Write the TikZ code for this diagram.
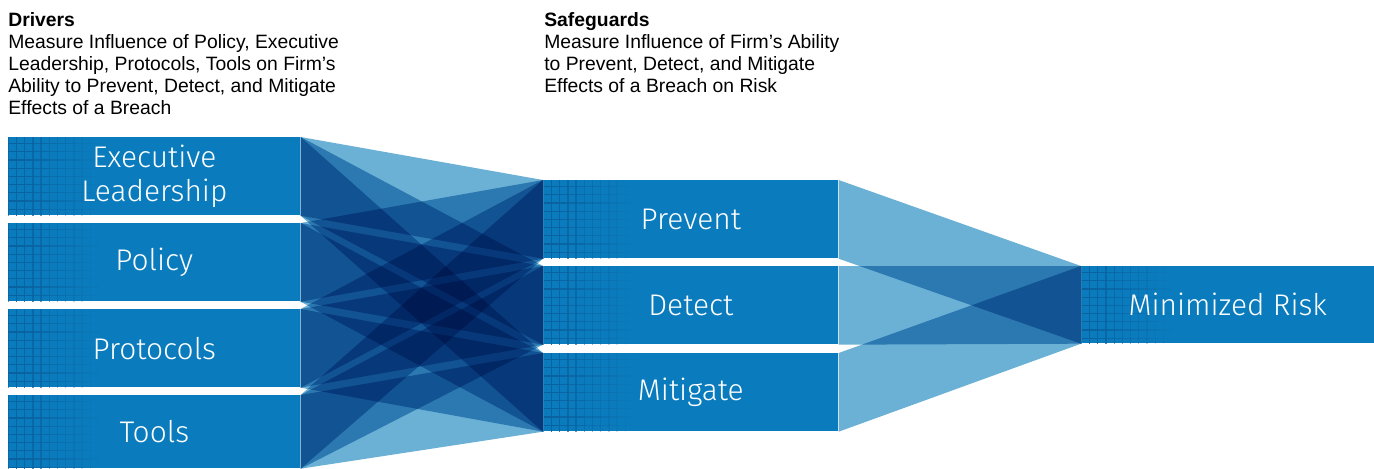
\documentclass[tikz,border=0pt]{standalone}
\usepackage{fontspec}
\setmainfont{Liberation Sans}
\newfontfamily\boxfont{Fira Sans Light}
\definecolor{boxblue}{HTML}{0A7CBD}
\definecolor{gridblue}{HTML}{0A619F}
\definecolor{fanblue}{HTML}{6BB0D5}

% fading grid on the left end of each box
\newcommand{\gridtex}{%
  \foreach \k in {0,...,10} {
    \pgfmathsetmacro{\op}{1-\k/11}
    \draw[gridblue, line width=0.75pt, opacity=\op]
      (path picture bounding box.north west) ++(\k*8.2, 0) -- ++(0, 80);
    \foreach \j in {1,...,9} {
      \draw[gridblue, line width=0.75pt, opacity=\op]
        (path picture bounding box.north west) ++(\k*8.2, \j*8.2-2) -- ++(8.2, 0);
    }
  }}

\begin{document}
\begin{tikzpicture}[
    x=0.02cm, y=-0.02cm,
    stage/.style={fill=boxblue, text=white, anchor=north west, inner sep=0pt,
      minimum width=5.84cm, minimum height=1.56cm, align=center,
      font=\boxfont\fontsize{17}{19.5}\selectfont, path picture={\gridtex}},
    fan/.style={fill=fanblue},
    head/.style={anchor=north west, align=left, inner sep=0pt,
      font=\fontsize{11}{12.6}\selectfont},
]
\useasboundingbox (0,0) rectangle (1374,468);

\node[head] (drv) at (8,12) {\textbf{Drivers}\\Measure Influence of Policy, Executive\\Leadership, Protocols, Tools on Firm’s\\Ability to Prevent, Detect, and Mitigate\\Effects of a Breach};
\node[head] (sfg) at (544,12) {\textbf{Safeguards}\\Measure Influence of Firm’s Ability\\to Prevent, Detect, and Mitigate\\Effects of a Breach on Risk};

% drivers
\node[stage] (ex) at (8,137) {Executive\\Leadership};
\node[stage] (po) at (8,223) {Policy};
\node[stage] (pc) at (8,309) {Protocols};
\node[stage, minimum height=1.46cm] (to) at (8,395) {Tools};

% safeguards
\node[stage, minimum width=5.9cm] (pr) at (543,180) {Prevent};
\node[stage, minimum width=5.9cm] (de) at (543,266) {Detect};
\node[stage, minimum width=5.9cm] (mi) at (543,353) {Mitigate};

% outcome
\node[stage, minimum width=5.86cm, minimum height=1.54cm] (mr) at (1081,266) {Minimized Risk};

\begin{scope}[blend group=multiply]
  \foreach \a in {ex,po,pc,to} {
    \foreach \b in {pr,de,mi} {
      \fill[fan] (\a.north east) -- (\b.north west) -- (\b.south west) -- (\a.south east) -- cycle;
    }
  }
  \foreach \b in {pr,de,mi} {
    \fill[fan] (\b.north east) -- (mr.north west) -- (mr.south west) -- (\b.south east) -- cycle;
  }
\end{scope}
\end{tikzpicture}
\end{document}
